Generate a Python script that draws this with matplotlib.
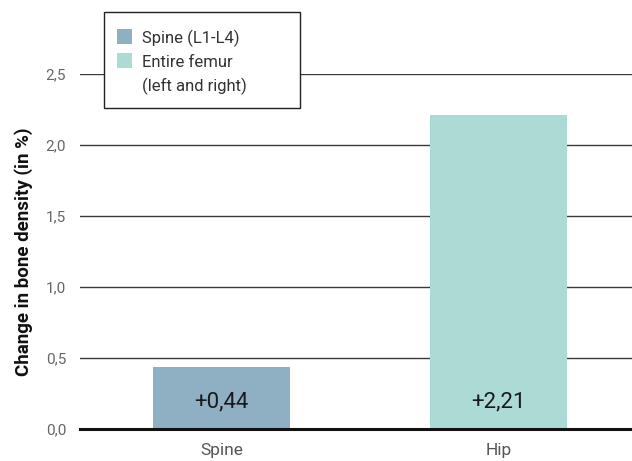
import matplotlib.pyplot as plt
from matplotlib.patches import Rectangle

plt.rcParams['font.family'] = ['Roboto', 'DejaVu Sans']

# bone density change per site
sites = ["Spine", "Hip"]
changes = [0.44, 2.21]
bar_colors = ["#8fb0c2", "#acdad4"]
legend_labels = ["Spine (L1-L4)", "Entire femur\n(left and right)"]
yticks = [0.0, 0.5, 1.0, 1.5, 2.0, 2.5]

W, H = 632, 461
fig = plt.figure(figsize=(W / 100, H / 100), dpi=100)
ax = fig.add_axes([80 / W, 32 / H, 552 / W, 355 / H])

x = range(len(sites))
ax.bar(x, changes, width=0.495, color=bar_colors, zorder=3)

for i, v in enumerate(changes):
    ax.annotate("+" + f"{v:.2f}".replace(".", ","), xy=(i, 0), xytext=(0, 19.5),
                textcoords="offset points", ha="center", va="center",
                fontsize=16, color="#1a1a1a", zorder=4)

ax.set_xlim(-0.511, 1.482)
ax.set_ylim(0, 2.5)
ax.set_yticks(yticks)
ax.set_yticklabels([f"{t:.1f}".replace(".", ",") for t in yticks])
ax.set_xticks(list(x))
ax.set_xticklabels(sites)
ax.tick_params(axis="y", length=0, pad=10, labelsize=11, labelcolor="#666666")
ax.tick_params(axis="x", length=0, pad=10, labelsize=12.5, labelcolor="#555555")

for t in yticks[1:]:
    ax.axhline(t, color="#3a3a3a", lw=1.0, zorder=1)
ax.axhline(0, color="#111111", lw=2.2, zorder=5, clip_on=False)

for s in ax.spines.values():
    s.set_visible(False)

ax.set_ylabel("Change in bone density (in %)", fontsize=13.5, fontweight="bold",
              color="#111111", labelpad=9)

# legend box drawn by hand in pixel coordinates
def px(xp, yp):
    return xp / W, 1 - yp / H

fig.patches.append(Rectangle(px(104, 108), 196 / W, 96 / H, transform=fig.transFigure,
                             facecolor="white", edgecolor="#222222", lw=1.0, zorder=10))
for k, (c, lab) in enumerate(zip(bar_colors, legend_labels)):
    y0 = 29 + 24 * k
    fig.patches.append(Rectangle(px(117, y0 + 15), 15 / W, 15 / H, transform=fig.transFigure,
                                 facecolor=c, edgecolor="none", zorder=11))
    for j, line in enumerate(lab.split("\n")):
        fig.text(*px(142, y0 + 9 + 24 * j), line, fontsize=12, color="#333333",
                 ha="left", va="center", zorder=12)

fig.savefig("out.png", dpi=100)
